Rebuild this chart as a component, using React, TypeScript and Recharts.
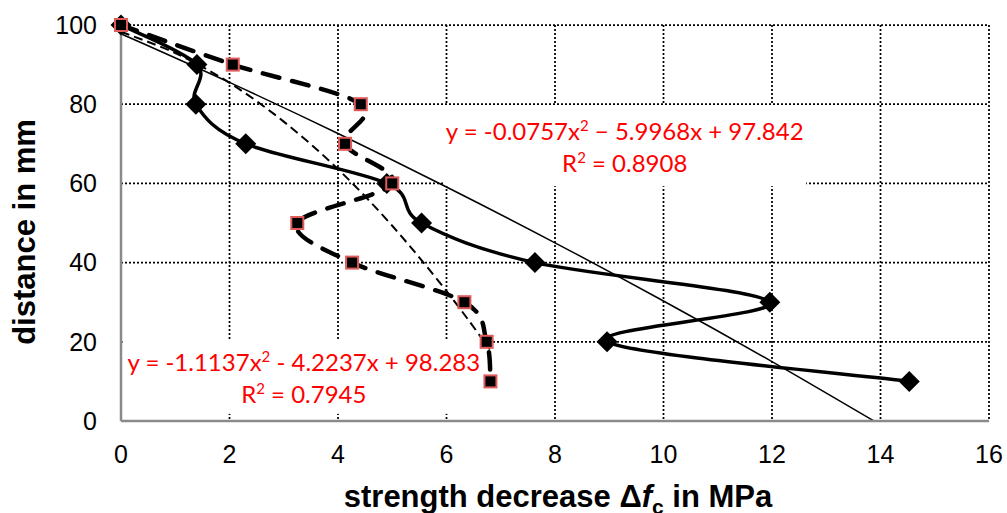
import { LineChart, Line, XAxis, YAxis, CartesianGrid, ReferenceArea } from "recharts";

// distance from the surface (mm), same for both series
const distancias = [100, 90, 80, 70, 60, 50, 40, 30, 20, 10];
// strength decrease Δf_c (MPa), diamond series
const rombosX = [0, 1.4, 1.38, 2.3, 4.9, 5.54, 7.63, 11.96, 8.96, 14.53];
// strength decrease Δf_c (MPa), square series
const cuadrosX = [0, 2.06, 4.42, 4.13, 5.0, 3.25, 4.26, 6.33, 6.74, 6.81];

// trendlines
const tendRombosX = [0, 2, 4, 6, 8, 10, 12, 13.88];
const tendRombosY = [97.8, 85.5, 72.6, 59.1, 45.0, 30.3, 15.0, 0];
const tendCuadrosX = [0, 1, 2, 3, 4, 5, 6, 6.8];
const tendCuadrosY = [98.3, 92.9, 85.4, 75.6, 63.6, 49.3, 32.8, 18.1];

const xTicks = [0, 2, 4, 6, 8, 10, 12, 14, 16];
const yTicks = [0, 20, 40, 60, 80, 100];

const ecuacionRombos = { a: "y = -0.0757x", b: " − 5.9968x + 97.842", r: " = 0.8908" };
const ecuacionCuadros = { a: "y = -1.1137x", b: " - 4.2237x + 98.283", r: " = 0.7945" };

const juntar = (xs: number[], ys: number[]) => xs.map((x, i) => ({ x, y: ys[i] }));
const datosRombos = juntar(rombosX, distancias);
const datosCuadros = juntar(cuadrosX, distancias);
const datosTendRombos = juntar(tendRombosX, tendRombosY);
const datosTendCuadros = juntar(tendCuadrosX, tendCuadrosY);

const FUENTE = "'Liberation Sans', Arial, sans-serif";
const FUENTE_ETQ = "Lato, 'Open Sans', sans-serif";

// suavizado tipo Excel (Catmull-Rom)
const curvaExcel = (ctx: any) => {
  let pts: number[][] = [];
  return {
    areaStart() {},
    areaEnd() {},
    lineStart() {
      pts = [];
    },
    point(x: number, y: number) {
      pts.push([+x, +y]);
    },
    lineEnd() {
      if (!pts.length) return;
      ctx.moveTo(pts[0][0], pts[0][1]);
      for (let i = 0; i < pts.length - 1; i++) {
        const p0 = pts[i - 1] ?? pts[i];
        const p1 = pts[i];
        const p2 = pts[i + 1];
        const p3 = pts[i + 2] ?? p2;
        ctx.bezierCurveTo(
          p1[0] + (p2[0] - p0[0]) / 6,
          p1[1] + (p2[1] - p0[1]) / 6,
          p2[0] - (p3[0] - p1[0]) / 6,
          p2[1] - (p3[1] - p1[1]) / 6,
          p2[0],
          p2[1]
        );
      }
    },
  };
};

const Rombo = (p: any) => {
  const { cx, cy } = p;
  if (cx == null || cy == null) return null;
  const r = 10.5;
  return (
    <polygon
      key={p.key}
      points={`${cx},${cy - r} ${cx + r},${cy} ${cx},${cy + r} ${cx - r},${cy}`}
      fill="#000"
    />
  );
};

const Cuadro = (p: any) => {
  const { cx, cy } = p;
  if (cx == null || cy == null) return null;
  return (
    <rect key={p.key} x={cx - 6} y={cy - 6} width={12} height={12} fill="#000" stroke="#e05a5a" strokeWidth={2} />
  );
};

const CajaEcuacion = ({ viewBox, ec }: any) => {
  if (!viewBox) return null;
  const { x, y, width, height } = viewBox;
  const cx = x + width / 2;
  const cy = y + height / 2 + 1.5;
  const estilo = { fontFamily: FUENTE_ETQ, fontSize: 24, fill: "#ff0000" };
  return (
    <g>
      <rect x={x} y={y} width={width} height={height} fill="#fff" />
      <text x={cx} y={cy - 16 + 9} textAnchor="middle" style={estilo}>
        {ec.a}
        <tspan dy={-9} fontSize={15}>2</tspan>
        <tspan dy={9}>{ec.b}</tspan>
      </text>
      <text x={cx} y={cy + 16 + 9} textAnchor="middle" style={estilo}>
        R<tspan dy={-9} fontSize={15}>2</tspan>
        <tspan dy={9}>{ec.r}</tspan>
      </text>
    </g>
  );
};

const TituloX = ({ viewBox }: any) => {
  if (!viewBox) return null;
  const cx = viewBox.x + viewBox.width / 2 + 3;
  return (
    <text x={cx} y={viewBox.y + 86} textAnchor="middle" style={{ fontFamily: FUENTE, fontSize: 31, fontWeight: 700, fill: "#000" }}>
      strength decrease Δ<tspan fontStyle="italic">f</tspan>
      <tspan dy={7} fontSize={21}>c</tspan>
      <tspan dy={-7}> in MPa</tspan>
    </text>
  );
};

const TituloY = ({ viewBox }: any) => {
  if (!viewBox) return null;
  const x = 24;
  const y = viewBox.y + viewBox.height / 2 + 9;
  return (
    <text
      x={x}
      y={y}
      transform={`rotate(-90, ${x}, ${y})`}
      textAnchor="middle"
      dominantBaseline="central"
      style={{ fontFamily: FUENTE, fontSize: 31, fontWeight: 700, fill: "#000" }}
    >
      distance in mm
    </text>
  );
};

export default function App() {
  return (
    <div style={{ position: "absolute", left: 0, top: 0, background: "#fff" }}>
      <LineChart width={1007} height={513} margin={{ top: 25, right: 18, bottom: 0, left: 0 }}>
        <CartesianGrid stroke="#000" strokeWidth={1.75} strokeDasharray="2 2" />
        <XAxis
          type="number"
          dataKey="x"
          domain={[0, 16]}
          ticks={xTicks}
          interval={0}
          height={92}
          tickLine={false}
          tickSize={0}
          tickMargin={24}
          axisLine={{ stroke: "#8a8a8a", strokeWidth: 2.5 }}
          tick={{ fontSize: 25, fill: "#000", fontFamily: FUENTE }}
          label={{ content: (p: any) => <TituloX {...p} /> }}
        />
        <YAxis
          type="number"
          dataKey="y"
          domain={[0, 100]}
          ticks={yTicks}
          interval={0}
          width={121}
          tickLine={false}
          tickSize={0}
          tickMargin={24}
          axisLine={{ stroke: "#8a8a8a", strokeWidth: 2.5 }}
          tick={{ fontSize: 25, fill: "#000", fontFamily: FUENTE }}
          label={{ content: (p: any) => <TituloY {...p} /> }}
        />
        <Line
          data={datosRombos}
          dataKey="y"
          type={curvaExcel as any}
          stroke="#000"
          strokeWidth={3.5}
          dot={Rombo}
          activeDot={false}
          isAnimationActive={false}
        />
        <Line
          data={datosCuadros}
          dataKey="y"
          type={curvaExcel as any}
          stroke="#000"
          strokeWidth={4.5}
          strokeDasharray="17 13"
          strokeLinecap="round"
          dot={Cuadro}
          activeDot={false}
          isAnimationActive={false}
        />
        <Line
          data={datosTendRombos}
          dataKey="y"
          type={curvaExcel as any}
          stroke="#000"
          strokeWidth={1.5}
          dot={false}
          activeDot={false}
          isAnimationActive={false}
        />
        <Line
          data={datosTendCuadros}
          dataKey="y"
          type={curvaExcel as any}
          stroke="#000"
          strokeWidth={2}
          strokeDasharray="9 5"
          dot={false}
          activeDot={false}
          isAnimationActive={false}
        />
        <ReferenceArea
          x1={5.94}
          x2={12.63}
          y1={59.3}
          y2={79.8}
          fill="none"
          stroke="none"
          ifOverflow="visible"
          label={(p: any) => <CajaEcuacion {...p} ec={ecuacionRombos} />}
        />
        <ReferenceArea
          x1={0.03}
          x2={6.71}
          y1={1.8}
          y2={20.45}
          fill="none"
          stroke="none"
          ifOverflow="visible"
          label={(p: any) => <CajaEcuacion {...p} ec={ecuacionCuadros} />}
        />
      </LineChart>
    </div>
  );
}
